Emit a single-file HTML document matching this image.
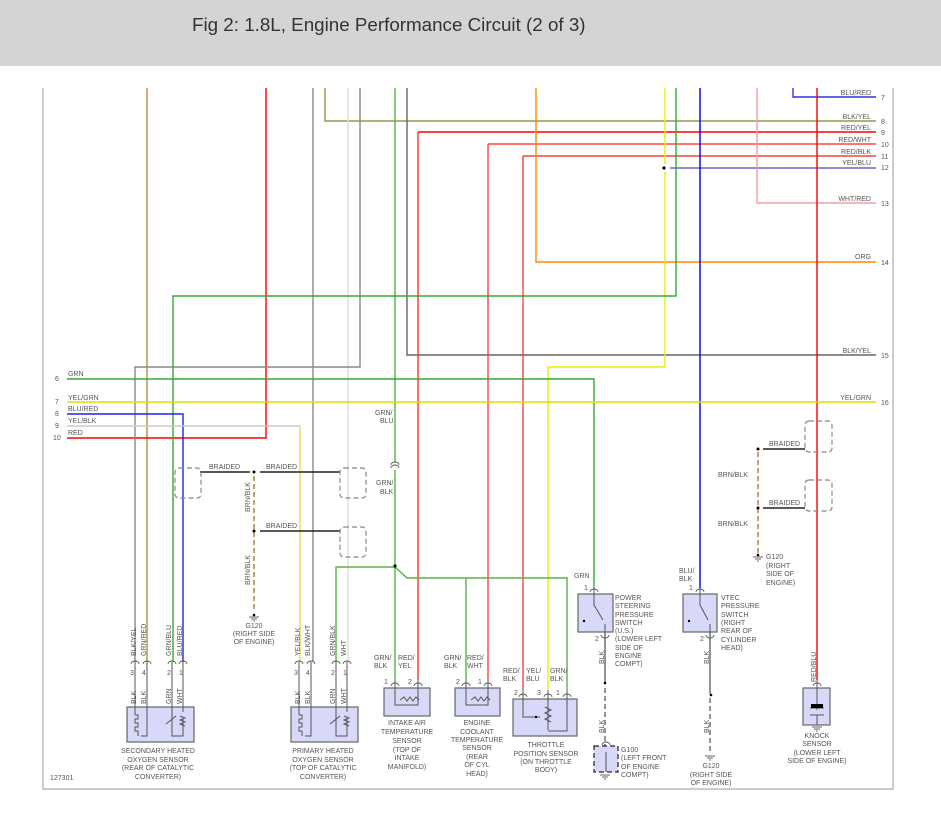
<!DOCTYPE html>
<html><head><meta charset="utf-8"><style>
html,body{margin:0;padding:0;background:#fff;}
body{width:941px;height:813px;overflow:hidden;position:relative;font-family:"Liberation Sans",sans-serif;}
.hdr{position:absolute;left:0;top:0;width:941px;height:66px;background:#d4d4d4;}
.hdr span{position:absolute;left:192px;top:14px;font-size:18.8px;color:#333;}
svg{position:absolute;left:0;top:0;}
text{font-family:"Liberation Sans",sans-serif;font-size:7px;fill:#555;}
</style></head><body>
<div class="hdr"><span>Fig 2: 1.8L, Engine Performance Circuit (2 of 3)</span></div>
<svg width="941" height="813" viewBox="0 0 941 813">
<g fill="none" stroke-width="1.4">
<path d="M43 88V789H893V88" stroke="#bbb" stroke-width="1.5"/>
<path d="M147 88V662" stroke="#b8864a"/>
<path d="M266 88V438H67" stroke="#f00"/>
<path d="M313 88V662" stroke="#888"/>
<path d="M325 88V121H876" stroke="#dd6" stroke-width="2"/>
<path d="M325 88V121H876" stroke="#888" stroke-width="1"/>
<path d="M348 88V662" stroke="#ddd"/>
<path d="M360 88V367H135V662" stroke="#888"/>
<path d="M395 88V462" stroke="#5ab04a"/>
<path d="M395 470V680" stroke="#5ab04a"/>
<path d="M407 88V355H876" stroke="#666"/>
<path d="M418 132H876" stroke="#f00"/>
<path d="M418 132V680" stroke="#f33"/>
<path d="M488 144V680M488 144H876" stroke="#f44"/>
<path d="M523 156V690M523 156H876" stroke="#e44"/>
<path d="M536 88V262H876" stroke="#f80"/>
<path d="M548 690V367H665V172M665 164V88" stroke="#ee0"/>
<path d="M670 168H876" stroke="#66c"/>
<path d="M676 88V296H173V662" stroke="#3a3"/>
<path d="M700 88V588" stroke="#00d"/>
<path d="M757 88V203H876" stroke="#f4a0a0"/>
<path d="M793 88V97H876" stroke="#33d"/>
<path d="M817 88V680" stroke="#f00"/>
<path d="M67 379H594V588" stroke="#3a3"/>
<path d="M67 402H876" stroke="#dd0"/>
<path d="M67 414H183V662" stroke="#22e"/>
<path d="M67 426H300V662" stroke="#ccc"/>
<path d="M300 426V662" stroke="#ee0" stroke-width="0.8"/>
<path d="M336 662V567H395L407 578H567V690" stroke="#5ab04a"/>
<path d="M466 578V680" stroke="#5ab04a"/>
<path d="M200 472H250M260 472H340M260 531H340M763 449H805M763 508H805" stroke="#222" stroke-width="1.6"/>
<path d="M254 476V612M758 452V553" stroke="#a08030" stroke-dasharray="5,3"/>
<g stroke="#888" stroke-dasharray="5,3" stroke-width="1.2">
<rect x="175" y="468" width="26" height="30" rx="4"/>
<rect x="340" y="468" width="26" height="30" rx="4"/>
<rect x="340" y="527" width="26" height="30" rx="4"/>
<rect x="805" y="421" width="27" height="31" rx="4"/>
<rect x="805" y="480" width="27" height="31" rx="4"/>
</g>
<path d="M605 632V683M710 632V694" stroke="#666"/>
<path d="M605 688V746M710 698V752" stroke="#666" stroke-dasharray="5,3"/>
</g>
<g fill="#000">
<circle cx="254" cy="472" r="1.5"/><circle cx="254" cy="531" r="1.5"/><circle cx="254" cy="615" r="1.3"/>
<circle cx="758" cy="449" r="1.5"/><circle cx="758" cy="508" r="1.5"/><circle cx="758" cy="555" r="1.3"/>
<circle cx="395" cy="566" r="1.6"/><circle cx="664" cy="168" r="1.6"/>
<circle cx="605" cy="683" r="1.3"/><circle cx="711" cy="695" r="1.3"/>
</g>
<g stroke="#666" stroke-width="1">
<path d="M249 617H259M251 619H257M253 621H255"/>
<path d="M753 557H763M755 559H761M757 561H759"/>
<path d="M705 756H715M707 758H713M709 760H711"/>
<path d="M600 775H610M602 777H608M604 779H606"/>
<path d="M812 727H822M814 729H820M816 731H818"/>
</g>
<g fill="#d8d8f8" stroke="#666" stroke-width="1.2">
<rect x="127" y="707" width="67" height="35"/>
<rect x="291" y="707" width="67" height="35"/>
<rect x="384" y="688" width="46" height="28"/>
<rect x="455" y="688" width="45" height="28"/>
<rect x="513" y="699" width="64" height="37"/>
<rect x="578" y="594" width="35" height="38"/>
<rect x="683" y="594" width="34" height="38"/>
<rect x="803" y="688" width="27" height="37"/>
<rect x="594" y="746" width="24" height="26" stroke-dasharray="5,3" stroke="#222"/>
</g>
<g fill="none" stroke="#555" stroke-width="1">
<path d="M135 662V715M147 662V736H141"/><path d="M135 715h3v4h-3v4h3v4h-3v4h3v5"/>
<path d="M299 662V715M311 662V736H305"/><path d="M299 715h3v4h-3v4h3v4h-3v4h3v5"/>
<path d="M172 662V736H183V718M183 662V712"/><path d="M336 662V736H347V718M347 662V712"/>
<path d="M166 724l10 -8M330 724l10 -8M180 716l5 2l-5 2l5 2l-5 2l5 2M344 716l5 2l-5 2l5 2l-5 2l5 2"/>
<path d="M395 680V705H418V680M400 700l4-3l3 4l3-4l3 4l3-4l3 3"/>
<path d="M466 680V705H488V680M471 700l4-3l3 4l3-4l3 4l3-4l3 3"/>
<path d="M523 690V717H540M548 690V730M567 690V731H548M545 707l6 3l-6 3l6 3l-6 3l6 3"/>
<path d="M594 588V605L603 620M605 624V632"/><path d="M700 588V605L708 620M710 624V632"/>
<path d="M817 680V710M810 708H824M810 715H824M817 715V725"/>
<path d="M606 752V772"/>
</g>
<rect x="811" y="704" width="12" height="4" fill="#000"/>
<g fill="#000"><circle cx="584" cy="621" r="1.2"/><circle cx="689" cy="621" r="1.2"/><circle cx="536" cy="717" r="1.2"/></g>
<g fill="none" stroke="#555" stroke-width="0.9">
<path d="M131 664a4 3 0 0 1 8 0M143 664a4 3 0 0 1 8 0M168 664a4 3 0 0 1 8 0M179 664a4 3 0 0 1 8 0"/>
<path d="M295 664a4 3 0 0 1 8 0M307 664a4 3 0 0 1 8 0M332 664a4 3 0 0 1 8 0M343 664a4 3 0 0 1 8 0"/>
<path d="M391 686a4 3 0 0 1 8 0M414 686a4 3 0 0 1 8 0M462 686a4 3 0 0 1 8 0M484 686a4 3 0 0 1 8 0"/>
<path d="M519 697a4 3 0 0 1 8 0M544 697a4 3 0 0 1 8 0M563 697a4 3 0 0 1 8 0"/>
<path d="M590 592a4 3 0 0 1 8 0M696 592a4 3 0 0 1 8 0M813 686a4 3 0 0 1 8 0M602 745a4 3 0 0 1 8 0"/>
<path d="M391 465a4 3 0 0 1 8 0M391 468a4 3 0 0 1 8 0"/>
<path d="M601 635a4 3 0 0 0 8 0M706 635a4 3 0 0 0 8 0"/>
</g>
<g>
<text x="68" y="376">GRN</text><text x="55" y="381">6</text>
<text x="68" y="400">YEL/GRN</text><text x="55" y="404">7</text>
<text x="68" y="411">BLU/RED</text><text x="55" y="416">8</text>
<text x="68" y="423">YEL/BLK</text><text x="55" y="428">9</text>
<text x="68" y="435">RED</text><text x="53" y="440">10</text>
</g>
<g text-anchor="end">
<text x="871" y="95">BLU/RED</text><text x="871" y="119">BLK/YEL</text><text x="871" y="130">RED/YEL</text>
<text x="871" y="142">RED/WHT</text><text x="871" y="154">RED/BLK</text><text x="871" y="165">YEL/BLU</text>
<text x="871" y="201">WHT/RED</text><text x="871" y="259">ORG</text><text x="871" y="353">BLK/YEL</text><text x="871" y="400">YEL/GRN</text>
</g>
<g>
<text x="881" y="100">7</text><text x="881" y="124">8</text><text x="881" y="135">9</text><text x="881" y="147">10</text>
<text x="881" y="159">11</text><text x="881" y="170">12</text><text x="881" y="206">13</text><text x="881" y="265">14</text>
<text x="881" y="358">15</text><text x="881" y="405">16</text>
<text x="209" y="469">BRAIDED</text><text x="266" y="469">BRAIDED</text><text x="266" y="528">BRAIDED</text>
<text x="769" y="446">BRAIDED</text><text x="769" y="505">BRAIDED</text>
<text x="718" y="477">BRN/BLK</text><text x="718" y="526">BRN/BLK</text>
<text x="375" y="415">GRN/</text><text x="380" y="423">BLU</text>
<text x="376" y="485">GRN/</text><text x="380" y="494">BLK</text>
<text x="574" y="578">GRN</text><text x="679" y="573">BLU/</text><text x="679" y="581">BLK</text>
<text x="374" y="660">GRN/</text><text x="374" y="668">BLK</text><text x="398" y="660">RED/</text><text x="398" y="668">YEL</text>
<text x="444" y="660">GRN/</text><text x="444" y="668">BLK</text><text x="467" y="660">RED/</text><text x="467" y="668">WHT</text>
<text x="503" y="673">RED/</text><text x="503" y="681">BLK</text><text x="526" y="673">YEL/</text><text x="526" y="681">BLU</text><text x="550" y="673">GRN/</text><text x="550" y="681">BLK</text>
<text x="384" y="684">1</text><text x="408" y="684">2</text><text x="456" y="684">2</text><text x="478" y="684">1</text>
<text x="514" y="695">2</text><text x="537" y="695">3</text><text x="556" y="695">1</text>
<text x="584" y="590">1</text><text x="689" y="590">1</text><text x="595" y="641">2</text><text x="700" y="641">2</text>
<text x="130" y="675">3</text><text x="142" y="675">4</text><text x="167" y="675">2</text><text x="179" y="675">1</text>
<text x="294" y="675">3</text><text x="306" y="675">4</text><text x="331" y="675">2</text><text x="343" y="675">1</text>
<text x="50" y="780">127301</text>
</g>
<g text-anchor="middle">
<text x="254" y="628">G120</text><text x="254" y="636">(RIGHT SIDE</text><text x="254" y="644">OF ENGINE)</text>
<text x="158" y="753">SECONDARY HEATED</text><text x="158" y="762">OXYGEN SENSOR</text><text x="158" y="770">(REAR OF CATALYTIC</text><text x="158" y="779">CONVERTER)</text>
<text x="323" y="753">PRIMARY HEATED</text><text x="323" y="762">OXYGEN SENSOR</text><text x="323" y="770">(TOP OF CATALYTIC</text><text x="323" y="779">CONVERTER)</text>
<text x="407" y="725">INTAKE AIR</text><text x="407" y="734">TEMPERATURE</text><text x="407" y="743">SENSOR</text><text x="407" y="752">(TOP OF</text><text x="407" y="760">INTAKE</text><text x="407" y="769">MANIFOLD)</text>
<text x="477" y="725">ENGINE</text><text x="477" y="734">COOLANT</text><text x="477" y="742">TEMPERATURE</text><text x="477" y="750">SENSOR</text><text x="477" y="759">(REAR</text><text x="477" y="767">OF CYL</text><text x="477" y="776">HEAD)</text>
<text x="546" y="747">THROTTLE</text><text x="546" y="756">POSITION SENSOR</text><text x="546" y="764">(ON THROTTLE</text><text x="546" y="772">BODY)</text>
<text x="817" y="738">KNOCK</text><text x="817" y="746">SENSOR</text><text x="817" y="755">(LOWER LEFT</text><text x="817" y="763">SIDE OF ENGINE)</text>
<text x="711" y="768">G120</text><text x="711" y="777">(RIGHT SIDE</text><text x="711" y="785">OF ENGINE)</text>
</g>
<g>
<text x="615" y="600">POWER</text><text x="615" y="608">STEERING</text><text x="615" y="617">PRESSURE</text><text x="615" y="625">SWITCH</text><text x="615" y="633">(U.S.)</text><text x="615" y="641">(LOWER LEFT</text><text x="615" y="650">SIDE OF</text><text x="615" y="658">ENGINE</text><text x="615" y="666">COMPT)</text>
<text x="721" y="600">VTEC</text><text x="721" y="608">PRESSURE</text><text x="721" y="617">SWITCH</text><text x="721" y="625">(RIGHT</text><text x="721" y="633">REAR OF</text><text x="721" y="642">CYLINDER</text><text x="721" y="650">HEAD)</text>
<text x="621" y="752">G100</text><text x="621" y="760">(LEFT FRONT</text><text x="621" y="769">OF ENGINE</text><text x="621" y="777">COMPT)</text>
<text x="766" y="559">G120</text><text x="766" y="568">(RIGHT</text><text x="766" y="576">SIDE OF</text><text x="766" y="585">ENGINE)</text>
</g>
<g>
<text transform="translate(250,512) rotate(-90)">BRN/BLK</text>
<text transform="translate(250,585) rotate(-90)">BRN/BLK</text>
<text transform="translate(136,656) rotate(-90)">BLK/YEL</text>
<text transform="translate(146,656) rotate(-90)">GRN/RED</text>
<text transform="translate(171,656) rotate(-90)">GRN/BLU</text>
<text transform="translate(182,656) rotate(-90)">BLU/RED</text>
<text transform="translate(300,656) rotate(-90)">YEL/BLK</text>
<text transform="translate(310,656) rotate(-90)">BLK/WHT</text>
<text transform="translate(335,656) rotate(-90)">GRN/BLK</text>
<text transform="translate(346,656) rotate(-90)">WHT</text>
<text transform="translate(136,704) rotate(-90)">BLK</text><text transform="translate(146,704) rotate(-90)">BLK</text>
<text transform="translate(171,704) rotate(-90)">GRN</text><text transform="translate(182,704) rotate(-90)">WHT</text>
<text transform="translate(300,704) rotate(-90)">BLK</text><text transform="translate(310,704) rotate(-90)">BLK</text>
<text transform="translate(335,704) rotate(-90)">GRN</text><text transform="translate(346,704) rotate(-90)">WHT</text>
<text transform="translate(604,664) rotate(-90)">BLK</text><text transform="translate(604,733) rotate(-90)">BLK</text>
<text transform="translate(709,664) rotate(-90)">BLK</text><text transform="translate(709,733) rotate(-90)">BLK</text>
<text transform="translate(816,682) rotate(-90)">RED/BLU</text>
</g>
</svg>
</body></html>
